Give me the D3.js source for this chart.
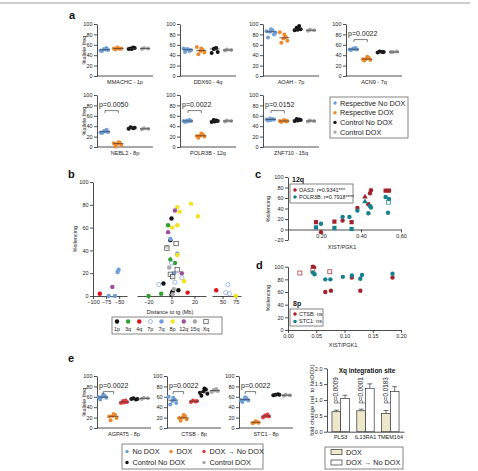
<!DOCTYPE html>
<html>
<head>
<meta charset="utf-8">
<script src="https://cdn.jsdelivr.net/npm/d3@7"></script>
<style>
body { margin: 0; background: #fff; }
svg { font-family: "Liberation Sans", Arial, sans-serif; -webkit-font-smoothing: antialiased; }
</style>
</head>
<body>
<div id="chart"></div>
<script>
var blue = '#6f9fd8', orange = '#ef8a2c', red = '#e23a3f', black = '#111', gray = '#a8a8a8';
var darkRed = '#a3232b', teal = '#17808f', beige = '#ede8cc';

// panel a
var aGroups = ['Respective No DOX', 'Respective DOX', 'Control No DOX', 'Control DOX'];
var aGenes = ['MMACHC - 1p', 'DDX60 - 4q', 'AOAH - 7p', 'ACN9 - 7q', 'NEBL2 - 8p', 'POLR3B - 12q', 'ZNF710 - 15q'];
var aPvals = [null, null, null, 'p=0.0022', 'p=0.0050', 'p=0.0022', 'p=0.0152'];
var mmachc = [[48, 50, 52, 54, 51, 49], [51, 53, 55, 52, 54, 53], [52, 54, 53, 55, 52], [52, 53, 54]];
var ddx60 = [[46, 50, 52, 48, 51, 53], [42, 45, 48, 50, 53, 56], [44, 46, 52, 54, 53], [49, 50, 51]];
var aoah = [[74, 80, 85, 88, 90, 86, 83], [64, 68, 72, 75, 80, 84], [88, 90, 93, 96, 89], [87, 88, 89]];
var acn9 = [[50, 51, 53, 54, 52, 51], [30, 31, 33, 35, 37, 32], [45, 46, 47, 46], [46, 47, 46]];
var nebl2 = [[27, 29, 31, 33, 30, 28], [1, 4, 6, 8, 9, 7], [35, 37, 38, 36], [34, 35, 36]];
var polr3b = [[48, 50, 51, 52, 49, 50], [18, 20, 22, 24, 26, 21], [48, 50, 52, 51, 49], [49, 50, 51]];
var znf710 = [[51, 53, 55, 54, 52, 53], [48, 50, 51, 49, 52, 50], [50, 52, 54, 53, 51], [49, 50, 51]];
var aValues = [mmachc, ddx60, aoah, acn9, nebl2, polr3b, znf710];

// panel b
var bChroms = ['1p', '3q', '4q', '7p', '7q', '8p', '12q', '15q', 'Xq'];
var bChrom = ['1p', '1p', '1p', '1p', '1p', '1p', '1p',
  '3q', '3q', '3q', '3q', '3q',
  '4q', '4q', '4q',
  '7p', '7p', '7p', '7p', '7p', '7p', '7p',
  '7q', '7q', '7q', '7q', '7q', '7q', '7q',
  '8p', '8p', '8p', '8p', '8p', '8p', '8p', '8p', '8p',
  '12q', '12q', '12q', '12q',
  '15q', '15q', '15q', '15q',
  'Xq', 'Xq', 'Xq', 'Xq', 'Xq'];
var bDistance = [0, -1, -7, 6, 1, 0.5, 0,
  -20, -9, -3, -1, 3,
  -87, 14, 38,
  -11, 0, 9, 3, 60, 56, 63,
  -70, -58, -53, -51, -1, 5, 2,
  5, 7, 17, 23, 0.5, 5, 5, 11, 75,
  -63, -3, 3, 9,
  -4, -2, 2, 1,
  4, -4, 5, -1, 1];
var bSilencing = [68, 49, 11, 5, 4, 3, 1,
  0, 2, 62, 32, 29,
  2, 3, 5,
  10, 29, 16, 12, 10, 3, 2,
  0, 0, 21, 23, 50, 37, 20,
  78, 74, 81, 70, 60, 62, 36, 13, 0,
  8, 56, 75, 20,
  43, 25, 6, 1.5,
  46, 42, 23, 19, 17];

// panel c
var cOas3X = [0.175, 0.20, 0.267, 0.308, 0.353, 0.382, 0.42, 0.437, 0.445, 0.45, 0.523, 0.54];
var cOas3Y = [14, -5, 15, 17, 14, 41, 62, 48, 69, 75, 74, 74];
var cOas3Shape = ['s', 'c', 's', 'c', 's', 'c', 't', 'c', 'c', 'c', 's', 's'];
var cPolX = [0.175, 0.20, 0.267, 0.308, 0.342, 0.353, 0.382, 0.42, 0.437, 0.445, 0.45, 0.523, 0.537, 0.54, 0.535];
var cPolY = [4, 11, 3, 24, 24, 1, 36, 53, 31, 45, 42, 62, 52, 58, 32];
var cPolShape = ['s', 'c', 's', 'c', 'c', 's', 'c', 't', 'c', 'c', 'c', 'c', 'o', 'c', 'c'];

// panel d
var dCtsbX = [0.021, 0.044, 0.046, 0.044, 0.074, 0.066, 0.076, 0.113, 0.128, 0.185];
var dCtsbY = [90, 100, 99, 94, 92, 60, 62, 83, 62, 83];
var dCtsbShape = ['o', 'c', 'c', 'o', 'o', 'c', 'c', 'c', 'c', 'c'];
var dStcX = [0.044, 0.047, 0.066, 0.075, 0.097, 0.113, 0.128, 0.131, 0.185];
var dStcY = [91, 88, 80, 80, 84, 86, 81, 87, 89];

// panel e
var eGroups = ['No DOX', 'DOX', 'DOX \u2192 No DOX', 'Control No DOX', 'Control DOX'];
var eGenes = ['AGPAT5 - 8p', 'CTSB - 8p', 'STC1 - 8p'];
var ePvals = ['p=0.0022', 'p=0.0022', 'p=0.0022'];
var agpat5 = [[55, 58, 60, 62, 64, 59], [15, 19, 23, 25, 27, 22], [48, 50, 52, 53, 49], [56, 56, 57, 55], [56, 57, 58]];
var ctsb = [[45, 48, 52, 55, 58, 60], [14, 17, 20, 23, 25, 19], [50, 52, 53, 51], [62, 66, 70, 74, 76, 68], [69, 71, 73, 75, 72]];
var stc1 = [[50, 53, 55, 57, 59, 54], [9, 10, 11, 12, 13], [20, 22, 24, 26, 23], [63, 64, 64, 65], [62, 63, 64]];
var eValues = [agpat5, ctsb, stc1];

// Xq bars
var xqGenes = ['PLS3', 'IL13RA1', 'TMEM164'];
var xqSeries = ['DOX', 'DOX \u2192 No DOX'];
var xqDox = [0.63, 0.66, 0.57];
var xqDoxErr = [0.05, 0.05, 0.10];
var xqRecov = [1.05, 1.37, 1.27];
var xqRecovErr = [0.10, 0.14, 0.15];
var xqPvals = ['p=0.0009', 'p=0.0001', 'p=0.0183'];

var svg = d3.select('#chart').append('svg')
  .attr('width', 478).attr('height', 471);

// frame line at top
svg.append('line').attr('x1', 0).attr('x2', 470).attr('y1', 3).attr('y2', 3)
  .attr('stroke', '#999').attr('stroke-width', 1);

function letter (t, x, y) {
  svg.append('text').attr('x', x).attr('y', y).text(t)
    .attr('font-size', 11).attr('font-weight', 'bold').attr('fill', '#111');
}

function styleAxis (g) {
  g.attr('font-size', 5.5).attr('font-family', null);
  g.select('.domain').attr('stroke', '#222').attr('stroke-width', 0.8);
  g.selectAll('.tick line').attr('stroke', '#222').attr('stroke-width', 0.8);
  g.selectAll('.tick text').attr('fill', '#222');
}

var jitter = [-3, 3, -1, 1.5, 0, -4.5, 4.5];

function dotPlot (x0, top, w, h, groups, values, colors, label, pval, yLabel) {
  var y = d3.scaleLinear().domain([0, 100]).range([top + h, top]);
  var x = d3.scalePoint().domain(groups).range([x0, x0 + w]).padding(0.6);
  svg.append('g').attr('transform', `translate(${x0},0)`)
    .call(d3.axisLeft(y).tickValues([0, 20, 40, 60, 80, 100]).tickSize(3).tickSizeOuter(0).tickPadding(1.5))
    .call(styleAxis);
  svg.append('line').attr('x1', x0).attr('x2', x0 + w).attr('y1', y(0)).attr('y2', y(0))
    .attr('stroke', '#222').attr('stroke-width', 0.8);
  groups.forEach(function (grp, i) {
    var vals = values[i];
    svg.append('g').selectAll('circle').data(vals).enter().append('circle')
      .attr('cx', (d, j) => x(grp) + jitter[j % jitter.length])
      .attr('cy', d => y(d))
      .attr('r', 2)
      .attr('fill', colors[i]);
    svg.append('line')
      .attr('x1', x(grp) - 5).attr('x2', x(grp) + 5)
      .attr('y1', y(d3.median(vals))).attr('y2', y(d3.median(vals)))
      .attr('stroke', '#333').attr('stroke-width', 0.7);
  });
  svg.append('text').attr('x', x0 + w / 2).attr('y', y(0) + 8)
    .attr('text-anchor', 'middle').attr('font-size', 5.5).attr('fill', '#222').text(label);
  if (pval) {
    var by = y(70), x1 = x(groups[0]), x2 = x(groups[1]);
    svg.append('path').attr('d', `M${x1},${by + 2.5}V${by}H${x2}V${by + 2.5}`)
      .attr('fill', 'none').attr('stroke', '#444').attr('stroke-width', 0.7);
    svg.append('text').attr('x', x0 + 2).attr('y', y(77)).attr('font-size', 7)
      .attr('fill', '#222').text(pval);
  }
  if (yLabel) {
    svg.append('text').attr('transform', `translate(${x0 - 11},${top + h / 2}) rotate(-90)`)
      .attr('text-anchor', 'middle').attr('font-size', 5.5).attr('fill', '#222').text(yLabel);
  }
}

// ---- a
letter('a', 69, 19);
var aColors = [blue, orange, black, gray];
var aPos = [[97, 24], [180, 24], [263, 24], [346, 24], [97, 95], [180, 95], [263, 95]];
aGenes.forEach(function (gene, i) {
  dotPlot(aPos[i][0], aPos[i][1], 56, 52, aGroups, aValues[i], aColors, gene, aPvals[i],
    aPos[i][0] === 97 ? '%allele freq' : null);
});

var aLeg = svg.append('g');
aLeg.append('rect').attr('x', 330).attr('y', 97).attr('width', 78).attr('height', 41)
  .attr('fill', 'none').attr('stroke', '#666').attr('stroke-width', 0.8);
aGroups.forEach(function (grp, i) {
  aLeg.append('circle').attr('cx', 335).attr('cy', 103 + i * 9.7).attr('r', 1.7).attr('fill', aColors[i]);
  aLeg.append('text').attr('x', 340).attr('y', 103 + i * 9.7).attr('dy', '0.35em')
    .attr('font-size', 7.3).attr('fill', '#222').text(grp);
});

// ---- b
letter('b', 68, 178);
var bColor = { '1p': black, '3q': '#2da12d', '4q': '#e0101a', '7p': '#7f9fe0', '7q': blue,
  '8p': '#f3e21c', '12q': '#9c4f9f', '15q': gray, 'Xq': '#333' };
var bY = d3.scaleLinear().domain([0, 100]).range([296, 182]);
var bSegs = [
  { s: d3.scaleLinear().domain([-100, -35]).range([93, 127]), ticks: [-100, -75, -50] },
  { s: d3.scaleLinear().domain([-30, 30]).range([137, 206]), ticks: [-20, 0, 20] },
  { s: d3.scaleLinear().domain([30, 85]).range([212, 241]), ticks: [50, 75] }
];
function bScale (v) {
  if (v < -32) return bSegs[0].s(v);
  if (v > 30) return bSegs[2].s(v);
  return bSegs[1].s(v);
}
svg.append('g').attr('transform', 'translate(93,0)')
  .call(d3.axisLeft(bY).tickValues([0, 20, 40, 60, 80, 100]).tickSize(3).tickSizeOuter(0).tickPadding(1.5))
  .call(styleAxis);
bSegs.forEach(function (seg) {
  svg.append('g').attr('transform', 'translate(0,296)')
    .call(d3.axisBottom(seg.s).tickValues(seg.ticks).tickSize(3).tickSizeOuter(0).tickPadding(1.5))
    .call(styleAxis);
});
svg.append('text').attr('transform', 'translate(77,239) rotate(-90)').attr('text-anchor', 'middle')
  .attr('font-size', 5.5).attr('fill', '#222').text('%silencing');
svg.append('text').attr('x', 170).attr('y', 314).attr('text-anchor', 'middle')
  .attr('font-size', 5.5).attr('fill', '#222').text('Distance to tg (Mb)');

function chromMark (g, chrom, cx, cy) {
  if (chrom === 'Xq') {
    g.append('rect').attr('x', cx - 2.2).attr('y', cy - 2.2).attr('width', 4.4).attr('height', 4.4)
      .attr('fill', '#fff').attr('fill-opacity', 0.6).attr('stroke', '#444').attr('stroke-width', 0.7);
  } else if (chrom === '7p') {
    g.append('circle').attr('cx', cx).attr('cy', cy).attr('r', 2.1)
      .attr('fill', 'none').attr('stroke', bColor[chrom]).attr('stroke-width', 0.7);
  } else {
    g.append('circle').attr('cx', cx).attr('cy', cy).attr('r', 2.2).attr('fill', bColor[chrom]);
  }
}
var bPts = svg.append('g');
bDistance.forEach(function (d, i) {
  chromMark(bPts, bChrom[i], bScale(d), bY(bSilencing[i]));
});
var bLegX = d3.scalePoint().domain(bChroms).range([117, 206]);
var bLeg = svg.append('g');
bLeg.append('rect').attr('x', 112).attr('y', 317).attr('width', 110).attr('height', 17)
  .attr('fill', 'none').attr('stroke', '#666').attr('stroke-width', 0.8);
bChroms.forEach(function (c) {
  chromMark(bLeg, c, bLegX(c), 321.5);
  bLeg.append('text').attr('x', bLegX(c)).attr('y', 331).attr('text-anchor', 'middle')
    .attr('font-size', 5.5).attr('fill', '#222').text(c);
});

// ---- c, d scatter helpers
function shapeMark (g, shape, cx, cy, color) {
  if (shape === 's') {
    g.append('rect').attr('x', cx - 2.1).attr('y', cy - 2.1).attr('width', 4.2).attr('height', 4.2).attr('fill', color);
  } else if (shape === 'o') {
    g.append('rect').attr('x', cx - 2).attr('y', cy - 2).attr('width', 4).attr('height', 4)
      .attr('fill', '#fff').attr('stroke', color).attr('stroke-width', 0.7);
  } else if (shape === 't') {
    g.append('path').attr('d', d3.symbol(d3.symbolTriangle, 14)()).attr('transform', `translate(${cx},${cy})`).attr('fill', color);
  } else {
    g.append('circle').attr('cx', cx).attr('cy', cy).attr('r', 2.2).attr('fill', color);
  }
}

// ---- c
letter('c', 255, 178);
var cX = d3.scaleLinear().domain([0.035, 0.6]).range([288, 401]);
var cY = d3.scaleLinear().domain([-20, 100]).range([240, 177]);
svg.append('g').attr('transform', 'translate(288,0)')
  .call(d3.axisLeft(cY).tickValues([-20, 0, 20, 40, 60, 80, 100]).tickSize(3).tickSizeOuter(0).tickPadding(1.5))
  .call(styleAxis);
svg.append('g').attr('transform', `translate(0,${cY(0)})`)
  .call(d3.axisBottom(cX).tickValues([0.2, 0.4, 0.6]).tickSize(3).tickSizeOuter(0).tickPadding(1.5))
  .call(styleAxis);
svg.append('text').attr('transform', 'translate(270,209) rotate(-90)').attr('text-anchor', 'middle')
  .attr('font-size', 5.5).attr('fill', '#222').text('%silencing');
svg.append('text').attr('x', 342).attr('y', 249).attr('text-anchor', 'middle')
  .attr('font-size', 5.5).attr('fill', '#222').text('XIST/PGK1');
var cPts = svg.append('g');
cOas3X.forEach((v, i) => shapeMark(cPts, cOas3Shape[i], cX(v), cY(cOas3Y[i]), darkRed));
cPolX.forEach((v, i) => shapeMark(cPts, cPolShape[i], cX(v), cY(cPolY[i]), teal));
svg.append('text').attr('x', 292).attr('y', 182).attr('font-size', 7).attr('font-weight', 'bold').attr('fill', '#111').text('12q');
svg.append('rect').attr('x', 290).attr('y', 184).attr('width', 63).attr('height', 19)
  .attr('fill', '#fff').attr('stroke', '#666').attr('stroke-width', 0.8);
[['OAS3: r=0.9341***', darkRed], ['POLR3B: r=0.7918****', teal]].forEach(function (e, i) {
  svg.append('circle').attr('cx', 295).attr('cy', 190 + i * 7).attr('r', 1.8).attr('fill', e[1]);
  svg.append('text').attr('x', 299).attr('y', 190 + i * 7).attr('dy', '0.35em')
    .attr('font-size', 5.5).attr('fill', '#222').text(e[0]);
});

// ---- d
letter('d', 256, 269);
var dX = d3.scaleLinear().domain([0, 0.2]).range([288, 401]);
var dY = d3.scaleLinear().domain([0, 100]).range([330, 266.7]);
svg.append('g').attr('transform', 'translate(288,0)')
  .call(d3.axisLeft(dY).tickValues([0, 20, 40, 60, 80, 100]).tickSize(3).tickSizeOuter(0).tickPadding(1.5))
  .call(styleAxis);
svg.append('g').attr('transform', 'translate(0,330)')
  .call(d3.axisBottom(dX).tickValues([0, 0.05, 0.1, 0.15, 0.2]).tickFormat(d3.format('.2f')).tickSize(3).tickSizeOuter(0).tickPadding(1.5))
  .call(styleAxis);
svg.append('text').attr('transform', 'translate(270,298) rotate(-90)').attr('text-anchor', 'middle')
  .attr('font-size', 5.5).attr('fill', '#222').text('%silencing');
svg.append('text').attr('x', 343).attr('y', 347).attr('text-anchor', 'middle')
  .attr('font-size', 5.5).attr('fill', '#222').text('XIST/PGK1');
var dPts = svg.append('g');
dCtsbX.forEach((v, i) => shapeMark(dPts, dCtsbShape[i], dX(v), dY(dCtsbY[i]), darkRed));
dStcX.forEach((v, i) => shapeMark(dPts, 'c', dX(v), dY(dStcY[i]), teal));
svg.append('text').attr('x', 293).attr('y', 306).attr('font-size', 7).attr('font-weight', 'bold').attr('fill', '#111').text('8p');
svg.append('rect').attr('x', 290).attr('y', 309).attr('width', 33).attr('height', 17)
  .attr('fill', '#fff').attr('stroke', '#666').attr('stroke-width', 0.8);
[['CTSB: ns', darkRed], ['STC1: ns', teal]].forEach(function (e, i) {
  svg.append('circle').attr('cx', 295).attr('cy', 314 + i * 7.5).attr('r', 1.8).attr('fill', e[1]);
  svg.append('text').attr('x', 299).attr('y', 314 + i * 7.5).attr('dy', '0.35em')
    .attr('font-size', 5.5).attr('fill', '#222').text(e[0]);
});

// ---- e
letter('e', 68, 362);
var eColors = [blue, orange, red, black, gray];
var eX0 = [97, 167, 239];
eGenes.forEach(function (gene, i) {
  dotPlot(eX0[i], 376, 54, 52, eGroups, eValues[i], eColors, gene, ePvals[i], i === 0 ? '%allele freq' : null);
});
var eLeg = svg.append('g');
eLeg.append('rect').attr('x', 122).attr('y', 444).attr('width', 141).attr('height', 25)
  .attr('fill', 'none').attr('stroke', '#666').attr('stroke-width', 0.8);
var eLegPos = [[127, 451.5], [171, 451.5], [204, 451.5], [127, 462.5], [204, 462.5]];
eGroups.forEach(function (grp, i) {
  eLeg.append('circle').attr('cx', eLegPos[i][0]).attr('cy', eLegPos[i][1]).attr('r', 1.7).attr('fill', eColors[i]);
  eLeg.append('text').attr('x', eLegPos[i][0] + 5.5).attr('y', eLegPos[i][1]).attr('dy', '0.35em')
    .attr('font-size', 7.3).attr('fill', '#222').text(grp);
});

// ---- Xq integration site bars
var xqY = d3.scaleLinear().domain([0, 2]).range([431.7, 368.3]);
var xqX = d3.scaleBand().domain(xqGenes).range([327, 404]).paddingInner(0.3).paddingOuter(0.2);
var xqSub = d3.scaleBand().domain(xqSeries).range([0, xqX.bandwidth()]);
svg.append('g').attr('transform', 'translate(327,0)')
  .call(d3.axisLeft(xqY).tickValues([0, 0.5, 1, 1.5, 2]).tickFormat(d3.format('.1f')).tickSize(3).tickSizeOuter(0).tickPadding(1.5))
  .call(styleAxis);
svg.append('g').attr('transform', 'translate(0,431.7)')
  .call(d3.axisBottom(xqX).tickSize(0).tickSizeOuter(0).tickPadding(3))
  .call(styleAxis);
var xqBars = svg.append('g');
[[xqDox, xqDoxErr, beige], [xqRecov, xqRecovErr, '#fff']].forEach(function (s, k) {
  xqGenes.forEach(function (gene, i) {
    var bx = xqX(gene) + xqSub(xqSeries[k]), bw = xqSub.bandwidth();
    var cx = bx + bw / 2;
    xqBars.append('line').attr('x1', cx).attr('x2', cx).attr('y1', xqY(s[0][i])).attr('y2', xqY(s[0][i] + s[1][i]))
      .attr('stroke', '#333').attr('stroke-width', 0.7);
    xqBars.append('line').attr('x1', cx - 2.5).attr('x2', cx + 2.5)
      .attr('y1', xqY(s[0][i] + s[1][i])).attr('y2', xqY(s[0][i] + s[1][i]))
      .attr('stroke', '#333').attr('stroke-width', 0.7);
    xqBars.append('rect').attr('x', bx).attr('y', xqY(s[0][i])).attr('width', bw)
      .attr('height', xqY(0) - xqY(s[0][i])).attr('fill', s[2]).attr('stroke', '#333').attr('stroke-width', 0.7);
  });
});
xqGenes.forEach(function (gene, i) {
  var cx = xqX(gene) + xqSub(xqSeries[0]) + xqSub.bandwidth() / 2;
  svg.append('text').attr('transform', `translate(${cx + 2},${xqY(0.88)}) rotate(-90)`)
    .attr('font-size', 6.3).attr('fill', '#222').text(xqPvals[i]);
});
svg.append('text').attr('x', 367).attr('y', 373).attr('text-anchor', 'middle')
  .attr('font-size', 6.5).attr('font-weight', 'bold').attr('fill', '#111').text('Xq integration site');
svg.append('text').attr('transform', 'translate(314,400) rotate(-90)').attr('text-anchor', 'middle')
  .attr('font-size', 5.8).attr('fill', '#222').text('fold change (rel. to NoDOX)');
var xLeg = svg.append('g');
xLeg.append('rect').attr('x', 325).attr('y', 447).attr('width', 78).attr('height', 22)
  .attr('fill', 'none').attr('stroke', '#666').attr('stroke-width', 0.8);
[beige, '#fff'].forEach(function (c, i) {
  xLeg.append('rect').attr('x', 331).attr('y', 449.5 + i * 10.5).attr('width', 11).attr('height', 5)
    .attr('fill', c).attr('stroke', '#333').attr('stroke-width', 0.7);
  xLeg.append('text').attr('x', 346).attr('y', 452 + i * 10.5).attr('dy', '0.35em')
    .attr('font-size', 7.3).attr('fill', '#222').text(xqSeries[i]);
});
</script>
</body>
</html>
